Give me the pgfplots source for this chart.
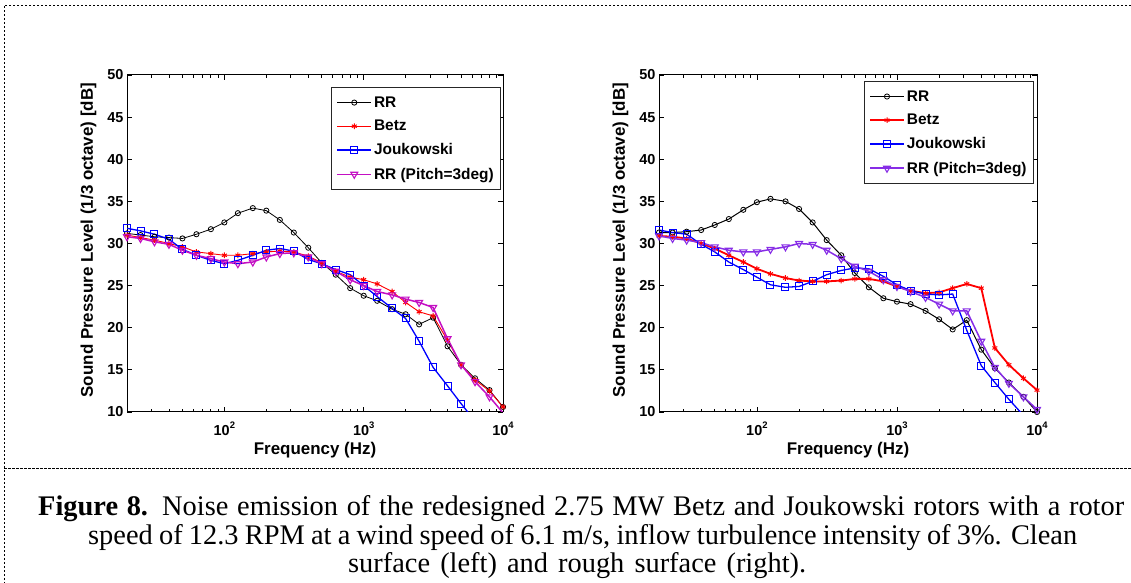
\documentclass[border=0pt]{standalone}
\usepackage{fontspec}
\setmainfont{Liberation Serif}
\newfontfamily\arial{Liberation Sans}
\usepackage{pgfplots}
\usepackage{pgfplotstable}
\pgfplotsset{compat=1.18}

\definecolor{magL}{RGB}{195,15,195}
\definecolor{purR}{RGB}{135,45,230}

% clean surface
\pgfplotstableread{
f     rr    betz  jouk  pitch
20    31.2  31.0  31.8  30.8
25    31.0  30.7  31.5  30.6
31.5  30.8  30.4  31.1  30.2
40    30.7  30.0  30.5  29.9
50    30.6  29.6  29.3  29.2
63    31.1  29.0  28.6  28.6
80    31.7  28.8  28.0  28.2
100   32.5  28.6  27.6  27.8
125   33.6  28.6  28.0  27.6
160   34.2  28.8  28.6  27.8
200   33.9  29.0  29.2  28.4
250   32.8  29.1  29.4  28.8
315   31.3  29.0  29.1  28.9
400   29.5  28.5  28.1  28.4
500   27.7  27.7  27.6  27.6
630   26.3  26.7  26.9  26.7
800   24.7  26.0  26.3  25.7
1000  23.8  25.7  25.0  25.0
1250  23.2  25.2  23.7  24.3
1600  22.2  24.3  22.3  23.9
2000  21.6  23.0  21.1  23.4
2500  20.4  21.9  18.4  23.0
3150  21.2  21.4  15.3  22.4
4000  17.8  18.5  13.1  18.7
5000  15.6  15.6  11.0  15.6
6300  14.0  13.8  8.9   13.6
8000  12.6  12.5  nan   11.8
10000 10.6  10.6  nan   9.9
}\clean

% rough surface
\pgfplotstableread{
f     rr    betz  jouk  pitch
20    31.3  30.9  31.6  30.9
25    31.3  30.8  31.3  30.6
31.5  31.4  30.6  31.1  30.4
40    31.6  30.0  29.9  30.1
50    32.2  29.4  29.0  29.6
63    32.9  28.6  27.8  29.2
80    34.0  27.8  26.9  29.0
100   34.9  27.0  26.0  29.0
125   35.3  26.4  25.1  29.3
160   35.0  25.9  24.8  29.6
200   34.1  25.6  24.9  30.0
250   32.5  25.5  25.5  29.9
315   30.4  25.5  26.3  29.2
400   28.6  25.6  26.8  28.2
500   26.5  25.8  27.1  27.3
630   24.8  25.8  27.0  26.7
800   23.5  25.5  26.1  25.7
1000  23.1  24.9  25.1  24.9
1250  22.8  24.4  24.4  24.3
1600  22.0  24.1  24.0  23.6
2000  21.0  24.2  23.9  22.8
2500  19.8  24.7  24.0  22.0
3150  20.9  25.2  19.7  22.0
4000  17.4  24.7  15.5  18.4
5000  15.2  17.6  13.5  15.3
6300  13.5  15.6  11.5  13.4
8000  11.8  14.0  9.6   11.8
10000 10.0  12.6  nan   10.3
}\rough

\newcommand\tenexp[1]{10\raisebox{7.5bp}{\fontsize{9.5}{9.5}\selectfont #1}}
\newcommand\capline[2]{{\spaceskip=0.25em plus 0.3em minus 0.12em\relax\makebox[#1][s]{#2}}}

\pgfplotsset{
  legend image code/.code={\draw[mark repeat=2,mark phase=2,#1] plot coordinates {(0bp,0bp) (17bp,0bp) (34bp,0bp)};},
  every axis/.append style={
    scale only axis, height=337bp,
    xmin=20, xmax=10000, ymin=10, ymax=50,
    xtick={100,1000,10000},
    xticklabels={\tenexp{2},\tenexp{3},\tenexp{4}},
    minor xtick={30,40,50,60,70,80,90,200,300,400,500,600,700,800,900,2000,3000,4000,5000,6000,7000,8000,9000},
    ytick={10,15,20,25,30,35,40,45,50},
    yticklabels={10,15,20,25,30,35,40,45,50},
    tick align=inside,
    major tick length=5bp, minor tick length=3bp,
    every tick/.style={black, line width=0.8bp},
    axis line style={line width=1bp},
    tick label style={font=\arial\bfseries\fontsize{14.5}{14.5}\selectfont},
    xticklabel style={yshift=-6bp},
    xlabel={Frequency (Hz)},
    ylabel={Sound Pressure Level (1/3 octave) [dB]},
    label style={font=\arial\bfseries\fontsize{17}{17}\selectfont},
    xlabel style={at={(axis description cs:0.5,-0.1276)}, anchor=base},
    ylabel style={at={(axis description cs:-0.0718,0.51)}, anchor=south},
    unbounded coords=jump,
    legend cell align=left,
    legend style={draw=black!85, line width=0.8bp, inner xsep=5bp, inner ysep=7bp,
      row sep=7.5bp, nodes={inner sep=2bp},
      font=\arial\bfseries\fontsize{15.5}{17}\selectfont},
  },
}

\begin{document}
\begin{tikzpicture}
\path[use as bounding box] (0,0) rectangle (1131bp,583bp);

\begin{semilogxaxis}[at={(127bp,171bp)}, anchor=south west, width=376bp,
  legend style={at={(0.995,0.964)}, anchor=north east}]
\addplot[black, line width=0.8bp, mark=o, mark size=2.6bp, mark options={line width=0.8bp}]
  table[x=f, y=rr] {\clean};
\addlegendentry{RR}
\addplot[red, line width=0.9bp, mark=asterisk, mark size=2.8bp, mark options={line width=1bp}]
  table[x=f, y=betz] {\clean};
\addlegendentry{Betz}
\addplot[blue, line width=1.3bp, mark=square, mark size=3.5bp, mark options={line width=1bp}]
  table[x=f, y=jouk] {\clean};
\addlegendentry{Joukowski}
\addplot[magL, line width=1.5bp, mark=triangle, mark size=4bp, mark options={rotate=180, line width=1.1bp}]
  table[x=f, y=pitch] {\clean};
\addlegendentry{RR (Pitch=3deg)}
\end{semilogxaxis}

\begin{semilogxaxis}[at={(659bp,171bp)}, anchor=south west, width=378bp,
  legend style={at={(0.992,0.982)}, anchor=north east}]
\addplot[black, line width=1bp, mark=o, mark size=2.6bp, mark options={line width=0.8bp}]
  table[x=f, y=rr] {\rough};
\addlegendentry{RR}
\addplot[red, line width=1.8bp, mark=asterisk, mark size=2.8bp, mark options={line width=1bp}]
  table[x=f, y=betz] {\rough};
\addlegendentry{Betz}
\addplot[blue, line width=1.3bp, mark=square, mark size=3.5bp, mark options={line width=1bp}]
  table[x=f, y=jouk] {\rough};
\addlegendentry{Joukowski}
\addplot[purR, line width=1.5bp, mark=triangle, mark size=4bp, mark options={rotate=180, line width=1.1bp}]
  table[x=f, y=pitch] {\rough};
\addlegendentry{RR (Pitch=3deg)}
\end{semilogxaxis}

\draw[dash pattern=on 2.5bp off 1.5bp, line width=0.9bp] (1131bp,578bp) -- (4bp,578bp) -- (4bp,0bp);
\draw[dash pattern=on 2.5bp off 1.5bp, line width=0.9bp] (4bp,115bp) -- (1131bp,115bp);

\begin{scope}[every node/.style={anchor=base west, inner sep=0pt,
    font=\fontsize{28.5}{28.5}\selectfont}]
\node at (38bp,67bp)
  {\capline{1086bp}{\textbf{Figure 8.} Noise emission of the redesigned 2.75 MW Betz and Joukowski rotors with a rotor}};
\node at (88bp,39bp)
  {\capline{989bp}{speed of 12.3 RPM at a wind speed of 6.1 m/s, inflow turbulence intensity of 3\%. Clean}};
\node at (348bp,11bp)
  {\capline{458bp}{surface (left) and rough surface (right).}};
\end{scope}
\end{tikzpicture}
\end{document}
